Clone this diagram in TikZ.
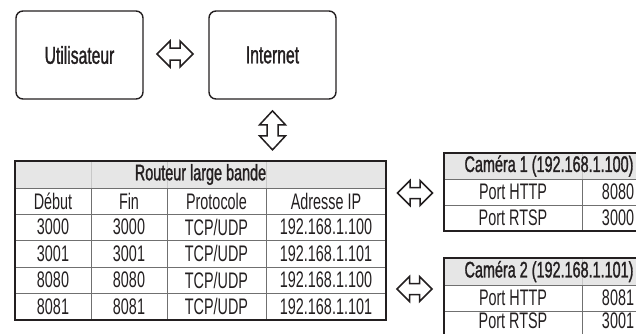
\documentclass[tikz,border=0pt]{standalone}
\usepackage{fontspec}
\setmainfont{Liberation Sans}[FakeStretch=0.64]
\newfontfamily\medfont{Liberation Sans}[FakeStretch=0.64,FakeBold=1.2]
\usetikzlibrary{calc}
\definecolor{ink}{HTML}{231F20}
\definecolor{hdr}{HTML}{E6E6E6}
\definecolor{gridc}{HTML}{707070}
\definecolor{faint}{HTML}{C8C8C8}
\begin{document}
\begin{tikzpicture}[x=1pt,y=-1pt,
  font=\fontsize{22.5}{24}\selectfont, text=ink,
  box/.style={draw=ink, line width=1.4pt, rounded corners=7pt,
    minimum width=127pt, minimum height=88pt, inner sep=0pt,
    font=\medfont\fontsize{24.5}{26}\selectfont},
  arrowsty/.style={draw=ink, line width=1.5pt, fill=white, line join=miter},
  cell/.style={inner sep=0pt, anchor=center},
  head/.style={inner sep=0pt, anchor=center, font=\medfont\fontsize{22.5}{24}\selectfont},
  outer/.style={draw=ink, line width=1.4pt},
  inner/.style={draw=gridc, line width=0.8pt},
  faintl/.style={draw=faint, line width=0.6pt}]
\useasboundingbox (0,0) rectangle (636,333);
\clip (0,0) rectangle (636,333);

% top boxes
\node[box] (user) at (79.5,55) {Utilisateur};
\node[box] (inet) at (272.5,55) {Internet};
\coordinate (a1) at ($(user.east)!0.5!(inet.west)+(-1,-1)$);
\draw[arrowsty, shift={(a1)}] (-18,0) -- (-5,-13) -- (-5,-6) -- (5,-6) -- (5,-13) -- (18,0)
  -- (5,13) -- (5,6) -- (-5,6) -- (-5,13) -- cycle;

% router table
\fill[hdr] (15,161) rectangle (386,188);
\foreach \x in {91,167,266} \draw[faintl] (\x,161) -- (\x,188);
\foreach \y in {188,214,240,267,293} \draw[inner] (15,\y) -- (386,\y);
\foreach \x in {91,167,266} \draw[inner] (\x,188) -- (\x,320);
\draw[outer] (15,161) rectangle (386,320);
\node[head] (rt) at (200.5,174.5) {Routeur large bande};
\coordinate (rtop) at (272.5,161);
\coordinate (a2) at ($(inet.south)!0.5!(rtop)$);
\draw[arrowsty, shift={(a2)}] (0,-19.5) -- (-13,-5.5) -- (-5.5,-5.5) -- (-5.5,5.5) -- (-13,5.5) -- (0,19.5)
  -- (13,5.5) -- (5.5,5.5) -- (5.5,-5.5) -- (13,-5.5) -- cycle;

\node[cell] (h1) at (53,201) {Début};
\node[cell] (h2) at (129,201) {Fin};
\node[cell] (h3) at (216.5,201) {Protocole};
\node[cell] (h4) at (326,201) {Adresse IP};
\foreach \y/\a/\ip [count=\i] in {227/3000/100, 253.5/3001/101, 280/8080/100, 306.5/8081/101}{
  \node[cell] (r\i a) at (53,\y) {\a};
  \node[cell] (r\i b) at (129,\y) {\a};
  \node[cell] (r\i c) at (216.5,\y) {TCP/UDP};
  \node[cell] (r\i d) at (326,\y) {192.168.1.\ip};
}

% camera 1
\fill[hdr] (444,153) rectangle (654,179);
\draw[faintl] (582,153) -- (582,179);
\foreach \y in {179,205} \draw[inner] (444,\y) -- (654,\y);
\draw[inner] (582,179) -- (582,231);
\draw[outer] (444,153) rectangle (654,231);
\node[head] (c1) at (549,166) {Caméra 1 (192.168.1.100)};
\node[cell] (c1a) at (513,192) {Port HTTP};
\node[cell] (c1b) at (618,192) {8080};
\node[cell] (c1c) at (513,218) {Port RTSP};
\node[cell] (c1d) at (618,218) {3000};

% camera 2
\fill[hdr] (444,258) rectangle (654,285);
\draw[faintl] (582,258) -- (582,285);
\foreach \y in {285,311} \draw[inner] (444,\y) -- (654,\y);
\draw[inner] (582,285) -- (582,337);
\draw[outer] (444,258) rectangle (654,337);
\node[head] (c2) at (549,271.5) {Caméra 2 (192.168.1.101)};
\node[cell] (c2a) at (513,298) {Port HTTP};
\node[cell] (c2b) at (618,298) {8081};
\node[cell] (c2c) at (513,321) {Port RTSP};
\node[cell] (c2d) at (618,321) {3001};

% side arrows
\coordinate (a3) at ($(386,194)!0.5!(c1a.west -| 444,194)$);
\coordinate (a4) at (414.5,289);
\foreach \c in {a3,a4}
  \draw[arrowsty, shift={(\c)}] (-17.5,0) -- (-5,-12.5) -- (-5,-5.5) -- (5,-5.5) -- (5,-12.5) -- (17.5,0)
    -- (5,12.5) -- (5,5.5) -- (-5,5.5) -- (-5,12.5) -- cycle;
\end{tikzpicture}
\end{document}
